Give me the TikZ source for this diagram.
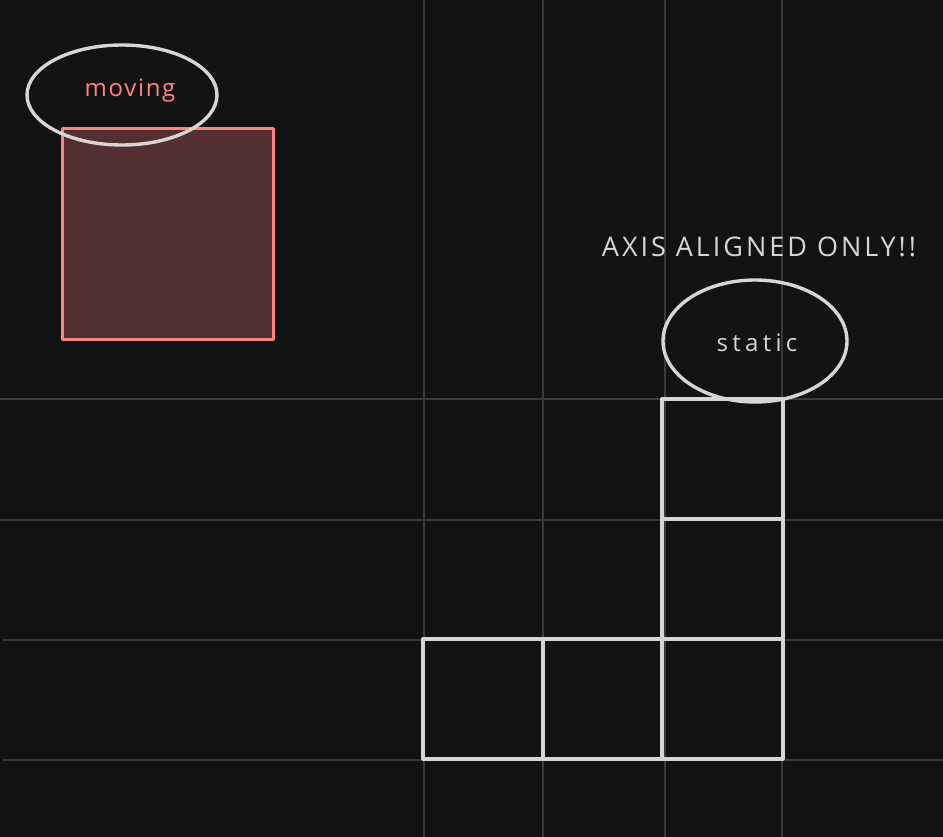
\documentclass[tikz,border=0pt]{standalone}
\usepackage{fontspec}
\setmainfont{Open Sans}
\usetikzlibrary{shapes.geometric}
\definecolor{bg}{HTML}{121212}
\definecolor{gridc}{HTML}{3A3A3A}
\definecolor{wht}{HTML}{D6D6D6}
\definecolor{redl}{HTML}{FF8383}
\definecolor{redf}{HTML}{542F2F}
\tikzset{
  gridline/.style={draw=gridc, line width=2.4pt},
  cell/.style={draw=wht, line width=3.2pt, line join=round},
  movebox/.style={draw=redl, fill=redf, line width=3pt, line join=round},
  bubble/.style={draw=wht, line width=3.4pt},
}
\begin{document}
\begin{tikzpicture}[x=1pt,y=-1pt]
\fill[bg] (0,0) rectangle (943,837);
\useasboundingbox (0,0) rectangle (943,837);
% grid
\foreach \gx in {424,543,665,782} \draw[gridline] (\gx,0) -- (\gx,837);
\draw[gridline] (0,399) -- (943,399);
\draw[gridline] (0,520) -- (943,520);
\draw[gridline] (3,640) -- (943,640);
\draw[gridline] (3,760) -- (943,760);
% static cells
\draw[cell] (662,399) rectangle (783,519);
\draw[cell] (662,519) rectangle (783,639);
\draw[cell] (662,639) rectangle (783,759);
\draw[cell] (423,639) rectangle (543,759);
\draw[cell] (543,639) rectangle (662,759);
% moving box
\draw[movebox] (62,129) rectangle (273,339);
% bubbles
\draw[bubble] (122,95) ellipse [x radius=95, y radius=50];
\node[text=redl, font=\fontsize{24}{26}\selectfont\addfontfeature{LetterSpace=7}] (moving) at (130,91) {moving};
\draw[bubble] (755,341) ellipse [x radius=92, y radius=61];
\node[text=wht, font=\fontsize{24}{26}\selectfont\addfontfeature{LetterSpace=18}] (static) at (757,343) {static};
\node[text=wht, font=\fontsize{27}{29}\selectfont\addfontfeature{LetterSpace=11}] (axis) at (759,247) {AXIS ALIGNED ONLY!!};
\end{tikzpicture}
\end{document}
